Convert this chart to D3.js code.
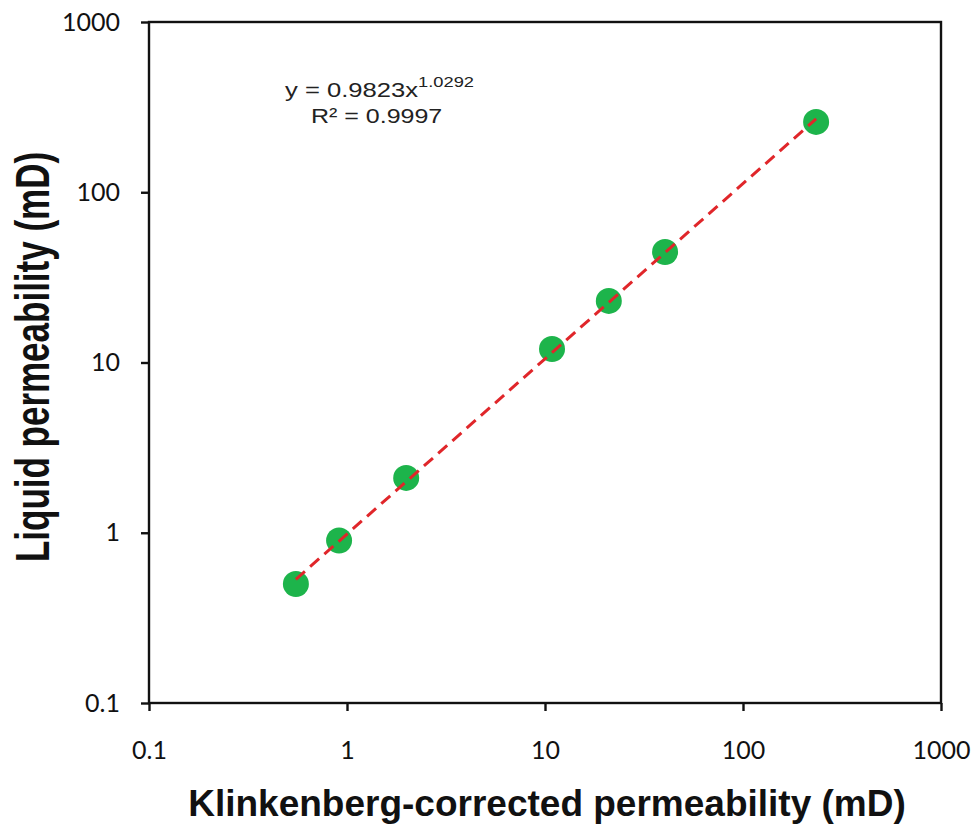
<!DOCTYPE html>
<html><head><meta charset="utf-8">
<script src="https://cdn.jsdelivr.net/npm/d3@7"></script>
<style>body{margin:0;background:#fff}</style>
</head><body>
<script>
const xValues = [0.552, 0.912, 1.99, 10.85, 21.0, 40.4, 234];
const yValues = [0.50, 0.90, 2.10, 12.0, 23.0, 44.6, 259];
const tickValues = [0.1, 1, 10, 100, 1000];
const tickLabels = ["0.1", "1", "10", "100", "1000"];
const fitA = 0.9823, fitB = 1.0292;
const eqText = "y = 0.9823x", eqExp = "1.0292", r2Text = "R² = 0.9997";
const xTitle = "Klinkenberg-corrected permeability (mD)";
const yTitle = "Liquid permeability (mD)";

const W = 975, H = 828;
const m = {l:149, r:34, t:22, b:125};
const svg = d3.select("body").append("svg").attr("width", W).attr("height", H);
const x = d3.scaleLog().domain([0.1, 1000]).range([m.l, W - m.r]);
const y = d3.scaleLog().domain([0.1, 1000]).range([H - m.b, m.t]);

const tickFont = "Lato, 'Open Sans', sans-serif";
const arial = "'Liberation Sans', Arial, sans-serif";
// frame
svg.append("rect").attr("x", m.l).attr("y", m.t).attr("width", W - m.r - m.l).attr("height", H - m.b - m.t)
  .attr("fill", "none").attr("stroke", "#111").attr("stroke-width", 2.4);

const fmt = v => tickLabels[tickValues.indexOf(v)];
const xAxis = svg.append("g").attr("transform", `translate(0,${H - m.b})`)
  .call(d3.axisBottom(x).tickValues(tickValues).tickFormat(fmt).tickSize(8).tickPadding(30));
const yAxis = svg.append("g").attr("transform", `translate(${m.l},0)`)
  .call(d3.axisLeft(y).tickValues(tickValues).tickFormat(fmt).tickSize(8).tickPadding(21));
[xAxis, yAxis].forEach(g => {
  g.select(".domain").remove();
  g.selectAll("line").attr("stroke", "#111").attr("stroke-width", 2.4);
  g.selectAll("text").attr("font-family", tickFont).attr("font-size", 25).attr("fill", "#111");
});

// points
svg.selectAll("circle.pt").data(xValues.map((v, i) => [v, yValues[i]])).enter()
  .append("circle").attr("class", "pt")
  .attr("cx", d => x(d[0])).attr("cy", d => y(d[1])).attr("r", 13)
  .attr("fill", "#1db44b");
// fit line (drawn over the points)
const xmin = d3.min(xValues), xmax = d3.max(xValues);
svg.append("line")
  .attr("x1", x(xmin)).attr("y1", y(fitA * Math.pow(xmin, fitB)))
  .attr("x2", x(xmax)).attr("y2", y(fitA * Math.pow(xmax, fitB)))
  .attr("stroke", "#e0262a").attr("stroke-width", 3).attr("stroke-dasharray", "12,7");

// equation
const eq = svg.append("text").attr("transform", "translate(285,97) scale(1.22,1)")
  .attr("font-family", arial).attr("font-size", 21).attr("fill", "#222");
eq.append("tspan").text(eqText);
eq.append("tspan").attr("font-size", 15).attr("dy", -10).text(eqExp);
svg.append("text").attr("transform", "translate(311,123) scale(1.19,1)")
  .attr("font-family", arial).attr("font-size", 21).attr("fill", "#222").text(r2Text);

// titles
svg.append("text").attr("x", 547).attr("y", 816).attr("text-anchor", "middle")
  .attr("font-family", arial).attr("font-weight", "bold").attr("font-size", 37)
  .attr("fill", "#111").text(xTitle);
svg.append("text").attr("transform", "translate(49,357) rotate(-90) scale(1,1.4)").attr("text-anchor", "middle")
  .attr("font-family", arial).attr("font-weight", "bold").attr("font-size", 35)
  .attr("fill", "#111").text(yTitle);
</script>
</body></html>
